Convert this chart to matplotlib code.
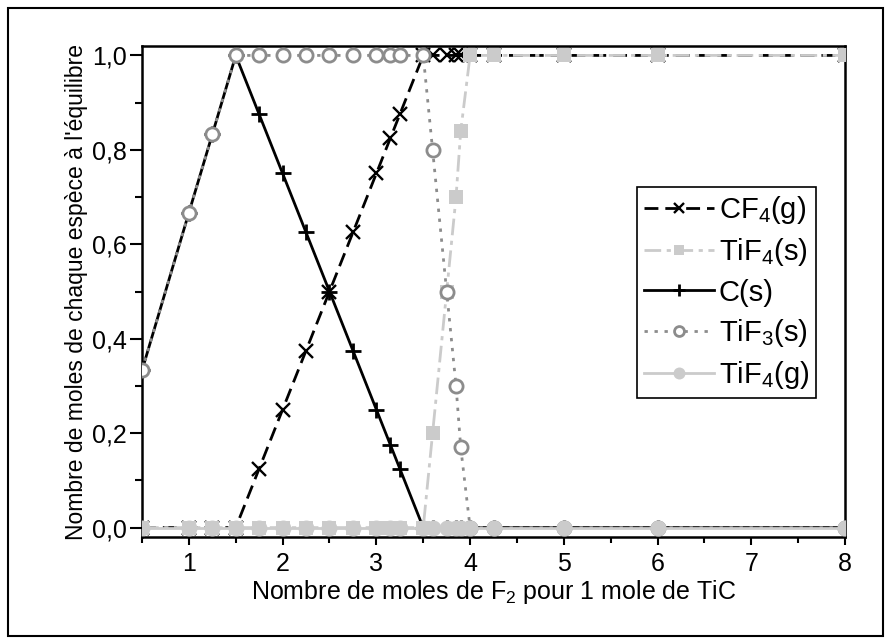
import matplotlib
matplotlib.use("Agg")
import matplotlib.pyplot as plt
from matplotlib.patches import Rectangle
from matplotlib.ticker import MultipleLocator, FuncFormatter

plt.rcParams['font.family'] = ['Liberation Sans', 'DejaVu Sans']
plt.rcParams['mathtext.fontset'] = 'custom'
plt.rcParams['mathtext.rm'] = 'Liberation Sans'
plt.rcParams['mathtext.it'] = 'Liberation Sans'

# moles de F2 pour 1 mole de TiC
x = [0.5, 1, 1.25, 1.5, 1.75, 2, 2.25, 2.5, 2.75, 3, 3.15, 3.25,
     3.5, 3.6, 3.75, 3.85, 3.9, 4, 4.25, 5, 6, 8]

cf4_g = [0, 0, 0, 0, 0.125, 0.25, 0.375, 0.5, 0.625, 0.75, 0.825, 0.875,
         1, 1, 1, 1, 1, 1, 1, 1, 1, 1]
tif4_s = [0, 0, 0, 0, 0, 0, 0, 0, 0, 0, 0, 0,
          0, 0.2, 0.5, 0.7, 0.84, 1, 1, 1, 1, 1]
c_s = [0.333, 0.667, 0.833, 1, 0.875, 0.75, 0.625, 0.5, 0.375, 0.25, 0.175, 0.125,
       0, 0, 0, 0, 0, 0, 0, 0, 0, 0]
tif3_s = [0.333, 0.667, 0.833, 1, 1, 1, 1, 1, 1, 1, 1, 1,
          1, 0.8, 0.5, 0.3, 0.17, 0, 0, 0, 0, 0]
tif4_g = [0] * len(x)

lgray = '#cbcbcb'
mgray = '#8c8c8c'

fig = plt.figure(figsize=(8.91, 6.44), dpi=100)
ax = fig.add_axes([0.1594, 0.1661, 0.7890, 0.7625])

ax.plot(x, c_s, color='black', lw=2, ls='-', marker='+', ms=12, mew=2,
        label='C(s)', zorder=2)
ax.plot(x, cf4_g, color='black', lw=2, ls=(0, (5, 2.5)), marker='x', ms=10, mew=1.7,
        label=r'CF$_4$(g)', zorder=3)
ax.plot(x, tif4_s, color=lgray, lw=2, ls=(0, (6, 2, 1.5, 2)), marker='s', ms=10,
        mew=0, label=r'TiF$_4$(s)', zorder=4)
ax.plot(x, tif3_s, color=mgray, lw=2, ls=(0, (1.2, 2.4)), marker='o', ms=9.5,
        mfc='white', mec=mgray, mew=2, label=r'TiF$_3$(s)', zorder=5)
ax.plot(x, tif4_g, color=lgray, lw=2, ls='-', marker='o', ms=11.5, mew=0,
        label=r'TiF$_4$(g)', zorder=6)

ax.set_xlim(0.5, 8)
ax.set_ylim(-0.02, 1.02)
ax.xaxis.set_major_locator(MultipleLocator(1))
ax.xaxis.set_minor_locator(MultipleLocator(0.5))
ax.yaxis.set_major_locator(MultipleLocator(0.2))
ax.yaxis.set_minor_locator(MultipleLocator(0.1))
ax.yaxis.set_major_formatter(FuncFormatter(lambda v, p: ('%.1f' % v).replace('.', ',')))

ax.tick_params(axis='x', which='major', direction='out', length=6, width=1.5, labelsize=18, pad=5)
ax.tick_params(axis='x', which='minor', direction='out', length=4, width=1.5)
ax.tick_params(axis='y', which='major', direction='out', length=9, width=1.5, labelsize=18, pad=2)
ax.tick_params(axis='y', which='minor', direction='out', length=5, width=1.5)
for s in ax.spines.values():
    s.set_linewidth(1.8)

ax.set_xlabel(r'Nombre de moles de F$_2$ pour 1 mole de TiC', fontsize=18, labelpad=1)
ax.set_ylabel(u"Nombre de moles de chaque espèce à l'équilibre", fontsize=16.5, labelpad=3)

h, l = ax.get_legend_handles_labels()
order = [1, 2, 0, 3, 4]
leg = ax.legend([h[i] for i in order], [l[i] for i in order], loc='upper right',
                bbox_to_anchor=(0.959, 0.713), borderaxespad=0, fontsize=21,
                numpoints=1, handlelength=2.4, handletextpad=0.15, labelspacing=0.35,
                borderpad=0.25, markerscale=0.75, fancybox=False, framealpha=1)
leg.get_frame().set_edgecolor('black')
leg.get_frame().set_linewidth(1.2)

fig.patches.append(Rectangle((0.009, 0.012), 0.982, 0.976, transform=fig.transFigure,
                             fill=False, edgecolor='black', linewidth=1.5))

fig.savefig('out.png', dpi=100)
